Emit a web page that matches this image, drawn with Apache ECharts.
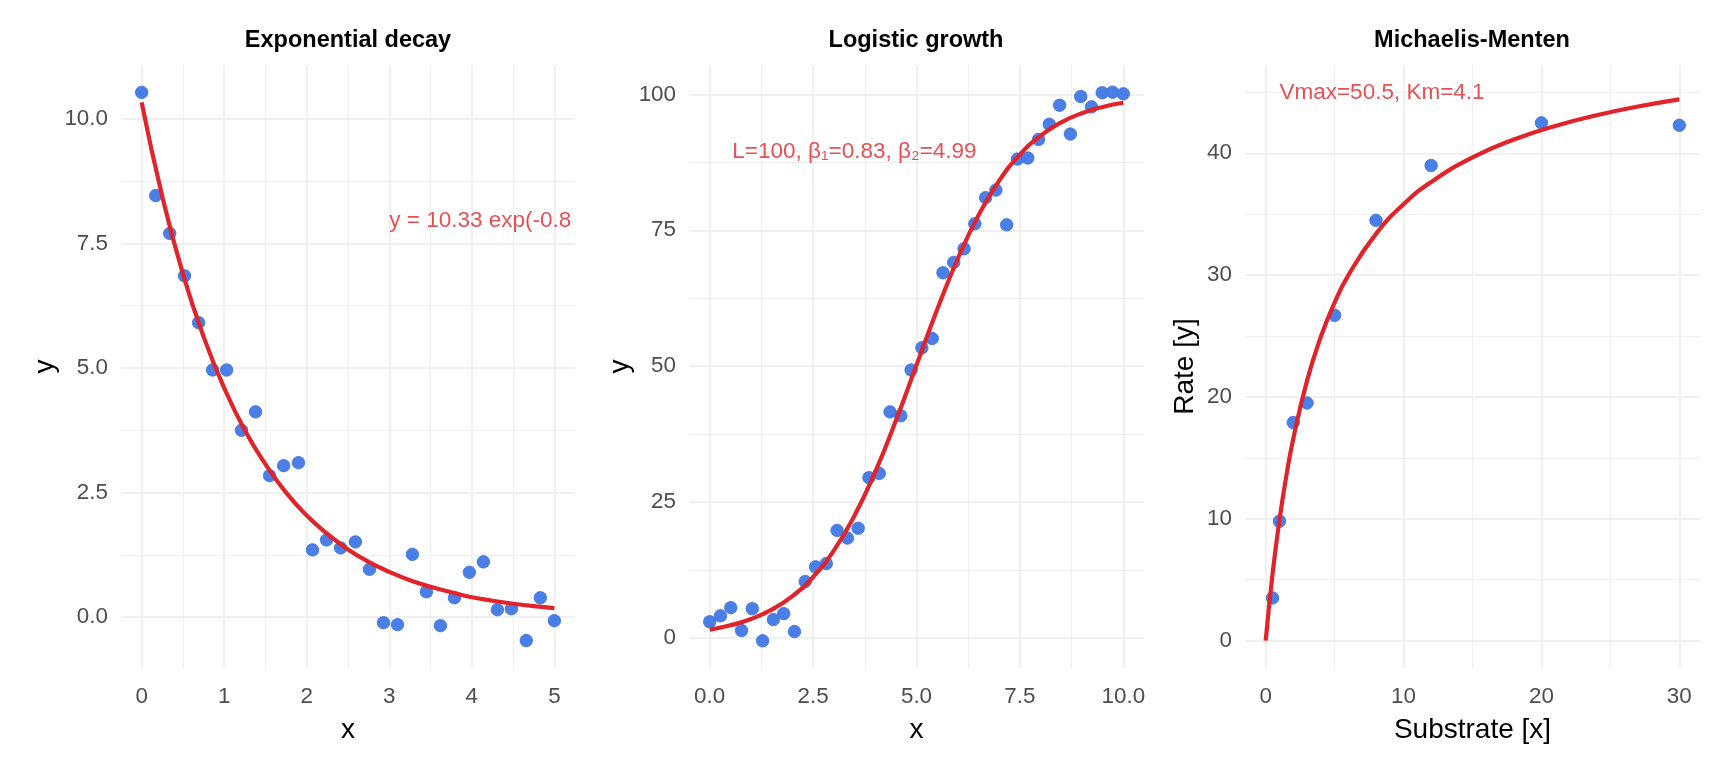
<!DOCTYPE html>
<html>
<head>
<meta charset="utf-8">
<script src="https://cdn.jsdelivr.net/npm/echarts@6/dist/echarts.min.js"></script>
<style>
  html, body { margin: 0; padding: 0; background: #fff; }
  #chart { width: 1728px; height: 768px; }
</style>
</head>
<body>
<div id="chart"></div>
<script>
// ---- Exponential decay ----
const expX = [0, 0.17, 0.34, 0.52, 0.69, 0.86, 1.03, 1.21, 1.38, 1.55, 1.72, 1.90, 2.07, 2.24, 2.41,
  2.59, 2.76, 2.93, 3.10, 3.28, 3.45, 3.62, 3.79, 3.97, 4.14, 4.31, 4.48, 4.66, 4.83, 5.00]
const expY = [10.53, 8.46, 7.70, 6.85, 5.91, 4.96, 4.96, 3.75, 4.12, 2.84, 3.04, 3.10, 1.35, 1.55, 1.39,
  1.51, 0.96, -0.11, -0.15, 1.26, 0.51, -0.17, 0.39, 0.90, 1.11, 0.15, 0.17, -0.47, 0.39, -0.07]
const expFitX = [0, 0.25, 0.5, 0.75, 1, 1.25, 1.5, 1.75, 2, 2.25, 2.5, 2.75, 3, 3.25, 3.5, 3.75, 4, 4.25, 4.5, 4.75, 5]
const expFitY = [10.33, 8.44, 6.89, 5.63, 4.60, 3.75, 3.07, 2.50, 2.04, 1.67, 1.36, 1.11, 0.91, 0.74, 0.61,
  0.50, 0.40, 0.33, 0.27, 0.22, 0.18]
const expXTicks = [0, 1, 2, 3, 4, 5]
const expXMinor = [0.5, 1.5, 2.5, 3.5, 4.5]
const expYTicks = [0, 2.5, 5, 7.5, 10]
const expYMinor = [1.25, 3.75, 6.25, 8.75]
const expLabel = 'y = 10.33 exp(-0.81 x)'
const expLabelAt = [3, 7.95]

// ---- Logistic growth ----
const logX = [0, 0.26, 0.51, 0.77, 1.03, 1.28, 1.54, 1.79, 2.05, 2.31, 2.56, 2.82, 3.08, 3.33, 3.59, 3.85,
  4.10, 4.36, 4.62, 4.87, 5.13, 5.38, 5.64, 5.90, 6.15, 6.41, 6.67, 6.92, 7.18, 7.44, 7.69, 7.95, 8.21,
  8.46, 8.72, 8.97, 9.23, 9.49, 9.74, 10.00]
const logY = [3.0, 4.1, 5.6, 1.4, 5.4, -0.5, 3.4, 4.5, 1.2, 10.4, 13.1, 13.7, 19.8, 18.4, 20.2, 29.5,
  30.3, 41.6, 40.9, 49.3, 53.4, 55.1, 67.2, 69.1, 71.6, 76.2, 81.0, 82.4, 76.0, 88.1, 88.3, 91.7, 94.5,
  98.0, 92.7, 99.6, 97.7, 100.3, 100.4, 100.1]
const logFitX = [0, 0.5, 1, 1.5, 2, 2.5, 3, 3.5, 4, 4.5, 5, 5.5, 6, 6.5, 7, 7.5, 8, 8.5, 9, 9.5, 10]
const logFitY = [1.56, 2.35, 3.52, 5.23, 7.72, 11.24, 16.09, 22.50, 30.54, 39.97, 50.21, 60.43, 69.81,
  77.79, 84.13, 88.93, 92.40, 94.85, 96.54, 97.69, 98.46]
const logXTicks = [0, 2.5, 5, 7.5, 10]
const logXMinor = [1.25, 3.75, 6.25, 8.75]
const logYTicks = [0, 25, 50, 75, 100]
const logYMinor = [12.5, 37.5, 62.5, 87.5]
const logLabel = 'L=100, β₁=0.83, β₂=4.99'
const logLabelAt = [3.5, 89.5]

// ---- Michaelis-Menten ----
const mmX = [0.5, 1, 2, 3, 5, 8, 12, 20, 30]
const mmY = [3.5, 9.8, 17.9, 19.5, 26.7, 34.5, 39.0, 42.5, 42.3]
const mmFitX = [0, 0.5, 1, 1.5, 2, 3, 4, 5, 6, 8, 10, 12, 15, 18, 21, 24, 27, 30]
const mmFitY = [0, 5.49, 9.90, 13.53, 16.56, 21.34, 24.94, 27.75, 30.00, 33.39, 35.82, 37.64, 39.66,
  41.13, 42.25, 43.13, 43.84, 44.43]
const mmXTicks = [0, 10, 20, 30]
const mmXMinor = [5, 15, 25]
const mmYTicks = [0, 10, 20, 30, 40]
const mmYMinor = [5, 15, 25, 35, 45]
const mmLabel = 'Vmax=50.5, Km=4.1'
const mmLabelAt = [1, 45]

const RED = '#E0242A'
const BLUE = '#4A7FE8'
const FONT = '"Liberation Sans", Arial, sans-serif'

const pairs = (xs, ys) => xs.map((x, i) => [x, ys[i]])
const fmt1 = (v) => Number(v).toFixed(1)
const fmt0 = (v) => String(v)

// one major axis (labels + thick grid) and one overlay axis for the minor grid
function axes(dim, gi, range, major, minor, fmt, name, gap) {
  const base = {
    type: 'value',
    gridIndex: gi,
    min: range[0],
    max: range[1],
    position: dim === 'x' ? 'bottom' : 'left',
    axisLine: { show: false }
  }
  return [
    {
      ...base,
      name: name,
      nameLocation: 'middle',
      nameGap: gap,
      nameMoveOverlap: false,
      nameTextStyle: { fontSize: 28, color: '#000', fontFamily: FONT },
      axisTick: { show: false, customValues: major },
      axisLabel: {
        customValues: major,
        formatter: fmt,
        fontSize: 22.4,
        color: '#4D4D4D',
        margin: dim === 'x' ? 18 : 13,
        fontFamily: FONT
      },
      splitLine: { show: true, lineStyle: { color: '#EBEBEB', width: 1.5 } }
    },
    {
      ...base,
      axisTick: { show: false, customValues: minor },
      axisLabel: { show: false, customValues: minor },
      splitLine: { show: true, lineStyle: { color: '#EBEBEB', width: 0.8 } }
    }
  ]
}

function panelSeries(ai, xs, ys, fx, fy, labelText, labelAt, labelOpts) {
  return [
    {
      type: 'scatter',
      xAxisIndex: ai,
      yAxisIndex: ai,
      data: pairs(xs, ys),
      symbolSize: 12.5,
      itemStyle: { color: BLUE, borderColor: '#3C6FD9', borderWidth: 0.8, opacity: 1 },
      z: 3
    },
    {
      type: 'line',
      xAxisIndex: ai,
      yAxisIndex: ai,
      data: pairs(fx, fy),
      smooth: true,
      showSymbol: false,
      lineStyle: { color: RED, width: 4.2 },
      z: 4
    },
    {
      type: 'scatter',
      xAxisIndex: ai,
      yAxisIndex: ai,
      data: [labelAt],
      symbolSize: 0,
      silent: true,
      label: {
        show: true,
        formatter: labelText,
        color: RED,
        fontSize: 22.5,
        fontFamily: FONT,
        ...labelOpts
      },
      z: 5
    }
  ]
}

const mychart = echarts.init(document.getElementById('chart'), null, { renderer: 'canvas' })

const grids = [
  { left: 121, top: 65, width: 454, height: 603 },
  { left: 689, top: 65, width: 455, height: 603 },
  { left: 1245, top: 65, width: 455, height: 603 }
]

const titleStyle = { fontSize: 23.5, fontWeight: 'bold', color: '#000', fontFamily: FONT }

const option = {
  animation: false,
  backgroundColor: '#fff',
  title: [
    { text: 'Exponential decay', left: 348, top: 29, textAlign: 'center', padding: 0, textStyle: titleStyle },
    { text: 'Logistic growth', left: 916, top: 29, textAlign: 'center', padding: 0, textStyle: titleStyle },
    { text: 'Michaelis-Menten', left: 1472, top: 29, textAlign: 'center', padding: 0, textStyle: titleStyle }
  ],
  grid: grids.map((g) => ({ ...g, containLabel: false, outerBoundsMode: 'none' })),
  xAxis: [
    ...axes('x', 0, [-0.25, 5.25], expXTicks, expXMinor, fmt0, 'x', 48),
    ...axes('x', 1, [-0.5, 10.5], logXTicks, logXMinor, fmt1, 'x', 48),
    ...axes('x', 2, [-1.5, 31.5], mmXTicks, mmXMinor, fmt0, 'Substrate [x]', 48)
  ],
  yAxis: [
    ...axes('y', 0, [-1.02, 11.08], expYTicks, expYMinor, fmt1, 'y', 62),
    ...axes('y', 1, [-5.5, 105.4], logYTicks, logYMinor, fmt0, 'y', 55),
    ...axes('y', 2, [-2.25, 47.25], mmYTicks, mmYMinor, fmt0, 'Rate [y]', 46)
  ],
  series: [
    ...panelSeries(0, expX, expY, expFitX, expFitY, expLabel, expLabelAt,
      { position: 'right', distance: 0, width: 193, overflow: 'truncate', ellipsis: '' }),
    ...panelSeries(2, logX, logY, logFitX, logFitY, logLabel, logLabelAt,
      { position: 'inside' }),
    ...panelSeries(4, mmX, mmY, mmFitX, mmFitY, mmLabel, mmLabelAt,
      { position: 'right', distance: 0 })
  ]
}

option && mychart.setOption(option)
</script>
</body>
</html>
